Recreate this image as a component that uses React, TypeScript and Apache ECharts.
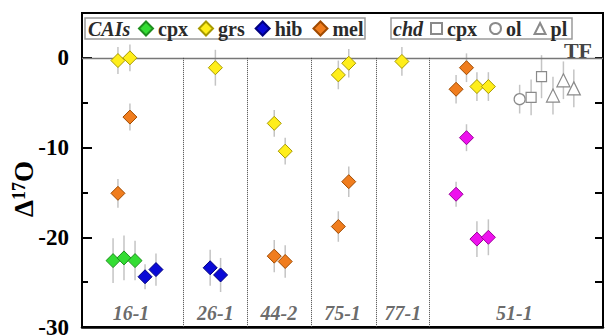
import React, { useEffect, useRef } from "react";
import * as echarts from "echarts";

// ---- data (x = position slot within the plot, y = Δ17O, e = error) ----
const groupNames = ["16-1", "26-1", "44-2", "75-1", "77-1", "51-1"];
const groupLabelX = [4.7, 12.8, 18.9, 25.0, 30.8, 41.5];
const groupLabelY = -28.4;
const groupBounds = [9.7, 15.9, 22.0, 28.2, 33.3];

const cpxX = [2.98, 4.03, 5.09];
const cpxY = [-22.6, -22.3, -22.6];
const cpxE = [2.5, 2.5, 2.2];

const grsX = [3.45, 4.6, 12.8, 18.45, 19.5, 24.6, 25.6, 30.7, 37.9, 39.0];
const grsY = [-0.3, 0.0, -1.1, -7.3, -10.4, -1.9, -0.6, -0.4, -3.2, -3.2];
const grsE = [1.5, 1.5, 2.0, 1.5, 1.5, 1.6, 1.6, 1.6, 1.6, 1.6];

const hibX = [6.05, 7.1, 12.3, 13.3];
const hibY = [-24.4, -23.6, -23.4, -24.2];
const hibE = [1.4, 1.8, 2.0, 1.9];

const melX = [4.6, 3.45, 18.45, 19.5, 25.6, 24.6, 36.9, 35.9];
const melY = [-6.6, -15.1, -22.1, -22.7, -13.8, -18.8, -1.1, -3.5];
const melE = [1.5, 1.6, 1.8, 1.8, 1.7, 1.7, 1.6, 1.6];

const magX = [36.9, 35.9, 37.9, 39.0];
const magY = [-8.9, -15.2, -20.2, -20.0];
const magE = [1.5, 1.4, 2.0, 2.0];

const chdCpxX = [43.1, 44.1];
const chdCpxY = [-4.4, -2.1];
const chdCpxE = [2.0, 2.4];

const chdOlX = [42.0];
const chdOlY = [-4.6];
const chdOlE = [1.6];

const chdPlX = [45.2, 46.2, 47.2];
const chdPlY = [-4.2, -2.5, -3.4];
const chdPlE = [2.1, 2.1, 2.1];

const yTicksMajor = { min: -30, max: 5, interval: 10 };

const FONT = "'Liberation Serif', 'Times New Roman', serif";

function pts(xs: number[], ys: number[]) {
  return xs.map((x, i) => [x, ys[i]]);
}
function errs(xs: number[], ys: number[], es: number[]) {
  return xs.map((x, i) => [x, ys[i], es[i]]);
}

export default function App() {
  const ref = useRef<HTMLDivElement>(null);

  useEffect(() => {
    document.body.style.margin = "0";
    if (!ref.current) return;
    const chart = echarts.init(ref.current, null, { renderer: "svg" });

    const allErr = [
      ...errs(cpxX, cpxY, cpxE),
      ...errs(grsX, grsY, grsE),
      ...errs(hibX, hibY, hibE),
      ...errs(melX, melY, melE),
      ...errs(magX, magY, magE),
      ...errs(chdCpxX, chdCpxY, chdCpxE),
      ...errs(chdOlX, chdOlY, chdOlE),
      ...errs(chdPlX, chdPlY, chdPlE),
    ];

    const diamond = (name: string, xs: number[], ys: number[], fill: string, border: string) => ({
      name,
      type: "scatter",
      symbol: "diamond",
      symbolSize: 14,
      data: pts(xs, ys),
      itemStyle: { color: fill, borderColor: border, borderWidth: 1, opacity: 1 },
      z: 5,
    });
    const open = (name: string, symbol: string, size: number, xs: number[], ys: number[]) => ({
      name,
      type: "scatter",
      symbol,
      symbolSize: size,
      data: pts(xs, ys),
      itemStyle: { color: "#ffffff", borderColor: "#8a8a8a", borderWidth: 1.2, opacity: 1 },
      z: 5,
    });

    const markLineData: any[] = [
      [
        { coord: [0, 0], lineStyle: { color: "#777", width: 1.3, type: "solid" } },
        { coord: [50, 0] },
      ],
      ...groupBounds.map((b) => [
        { coord: [b, 0], lineStyle: { color: "#444", width: 1, type: "dotted" } },
        { coord: [b, -30] },
      ]),
    ];

    chart.setOption({
      animation: false,
      backgroundColor: "#ffffff",
      grid: {
        left: 82,
        right: 2,
        top: 13,
        bottom: 8,
        show: true,
        borderColor: "#000",
        borderWidth: 2,
        outerBoundsMode: "none",
      },
      xAxis: {
        type: "value",
        min: 0,
        max: 50,
        axisLine: { show: true, onZero: false, lineStyle: { color: "#000", width: 2.5 } },
        axisTick: { show: false },
        axisLabel: { show: false },
        splitLine: { show: false },
      },
      yAxis: [
        {
          type: "value",
          min: yTicksMajor.min,
          max: yTicksMajor.max,
          interval: yTicksMajor.interval,
          position: "left",
          offset: 0,
          axisLine: { show: true, lineStyle: { color: "#000", width: 2 } },
          axisTick: { show: true, inside: true, length: 10, lineStyle: { color: "#000", width: 2 } },
          axisLabel: {
            formatter: (v: number) => (v > 0 ? "" : String(v)),
            fontFamily: FONT,
            fontWeight: "bold",
            fontSize: 23,
            color: "#000",
            margin: 13,
          },
          splitLine: { show: false },
        },
        {
          type: "value",
          min: -30,
          max: 5,
          interval: 5,
          position: "left",
          offset: 0,
          axisLine: { show: false },
          axisTick: { show: true, inside: true, length: 6, lineStyle: { color: "#000", width: 2 } },
          axisLabel: { show: false },
          splitLine: { show: false },
        },
        {
          type: "value",
          min: -30,
          max: 5,
          interval: 5,
          position: "right",
          offset: 0,
          axisLine: { show: true, lineStyle: { color: "#000", width: 2 } },
          axisTick: { show: true, inside: true, length: 8, lineStyle: { color: "#000", width: 2 } },
          axisLabel: { show: false },
          splitLine: { show: false },
        },
      ],
      legend: [
        {
          data: ["cpx", "grs", "hib", "mel"],
          left: 138,
          top: 18,
          padding: 0,
          itemWidth: 14,
          itemHeight: 14,
          itemGap: 10,
          selectedMode: false,
          textStyle: { fontFamily: FONT, fontWeight: "bold", fontSize: 20, color: "#2a2a2a", lineHeight: 21 },
        },
        {
          data: ["chd-cpx", "chd-ol", "chd-pl"],
          formatter: (n: string) => n.replace("chd-", ""),
          left: 430,
          top: 18,
          padding: 0,
          itemWidth: 11,
          itemHeight: 11,
          itemGap: 12,
          selectedMode: false,
          textStyle: { fontFamily: FONT, fontWeight: "bold", fontSize: 20, color: "#2a2a2a", lineHeight: 21 },
        },
      ],
      graphic: [
        {
          type: "rect",
          shape: { x: 85, y: 18, width: 280, height: 21 },
          style: { fill: "transparent", stroke: "#9a9a9a", lineWidth: 1.5 },
          z: 1,
        },
        {
          type: "rect",
          shape: { x: 391, y: 18, width: 181, height: 21 },
          style: { fill: "transparent", stroke: "#9a9a9a", lineWidth: 1.5 },
          z: 1,
        },
        {
          type: "text",
          x: 88,
          y: 29,
          style: {
            text: "CAIs",
            font: `italic bold 20px ${FONT}`,
            fill: "#2a2a2a",
            verticalAlign: "middle",
          },
        },
        {
          type: "text",
          x: 393,
          y: 29,
          style: {
            text: "chd",
            font: `italic bold 20px ${FONT}`,
            fill: "#2a2a2a",
            verticalAlign: "middle",
          },
        },
        {
          type: "text",
          x: 592,
          y: 50,
          style: {
            text: "TF",
            font: `bold 22px ${FONT}`,
            fill: "#444",
            align: "right",
            verticalAlign: "middle",
          },
        },
        {
          type: "text",
          x: 24,
          y: 189,
          rotation: Math.PI / 2,
          style: {
            text: "{a|Δ}{s|17}{a|O}",
            align: "center",
            verticalAlign: "middle",
            rich: {
              a: { fontFamily: FONT, fontWeight: "bold", fontSize: 27, fill: "#000", lineHeight: 28 },
              s: { fontFamily: FONT, fontWeight: "bold", fontSize: 18, fill: "#000", verticalAlign: "top", lineHeight: 28, padding: [0, 0, 8, 0] },
            },
          },
        },
      ],
      series: [
        {
          name: "errors",
          type: "custom",
          data: allErr,
          encode: { x: 0, y: 1 },
          z: 2,
          silent: true,
          renderItem: (_p: any, api: any) => {
            const x = api.value(0);
            const y = api.value(1);
            const e = api.value(2);
            const a = api.coord([x, y + e]);
            const b = api.coord([x, y - e]);
            return {
              type: "line",
              shape: { x1: a[0], y1: a[1], x2: b[0], y2: b[1] },
              style: { stroke: "#c4c4c4", lineWidth: 1.5 },
            };
          },
        },
        diamond("cpx", cpxX, cpxY, "#33dd33", "#1e8f1e"),
        diamond("grs", grsX, grsY, "#ffee1a", "#a89a00"),
        diamond("hib", hibX, hibY, "#0a0ad6", "#000080"),
        diamond("mel", melX, melY, "#f07d1e", "#a04a00"),
        diamond("mag", magX, magY, "#ee11ee", "#990099"),
        open("chd-cpx", "rect", 10, chdCpxX, chdCpxY),
        open("chd-ol", "circle", 11, chdOlX, chdOlY),
        open("chd-pl", "triangle", 13, chdPlX, chdPlY),
        {
          name: "groups",
          type: "scatter",
          symbolSize: 0,
          silent: true,
          data: groupNames.map((n, i) => ({ name: n, value: [groupLabelX[i], groupLabelY] })),
          label: {
            show: true,
            position: "inside",
            formatter: (p: any) => p.name,
            fontFamily: FONT,
            fontStyle: "italic",
            fontWeight: "bold",
            fontSize: 20,
            color: "#444",
          },
          markLine: {
            silent: true,
            symbol: ["none", "none"],
            label: { show: false },
            data: markLineData,
          },
          z: 1,
        },
      ],
    });

    return () => chart.dispose();
  }, []);

  return <div ref={ref} style={{ width: 605, height: 335 }} />;
}
